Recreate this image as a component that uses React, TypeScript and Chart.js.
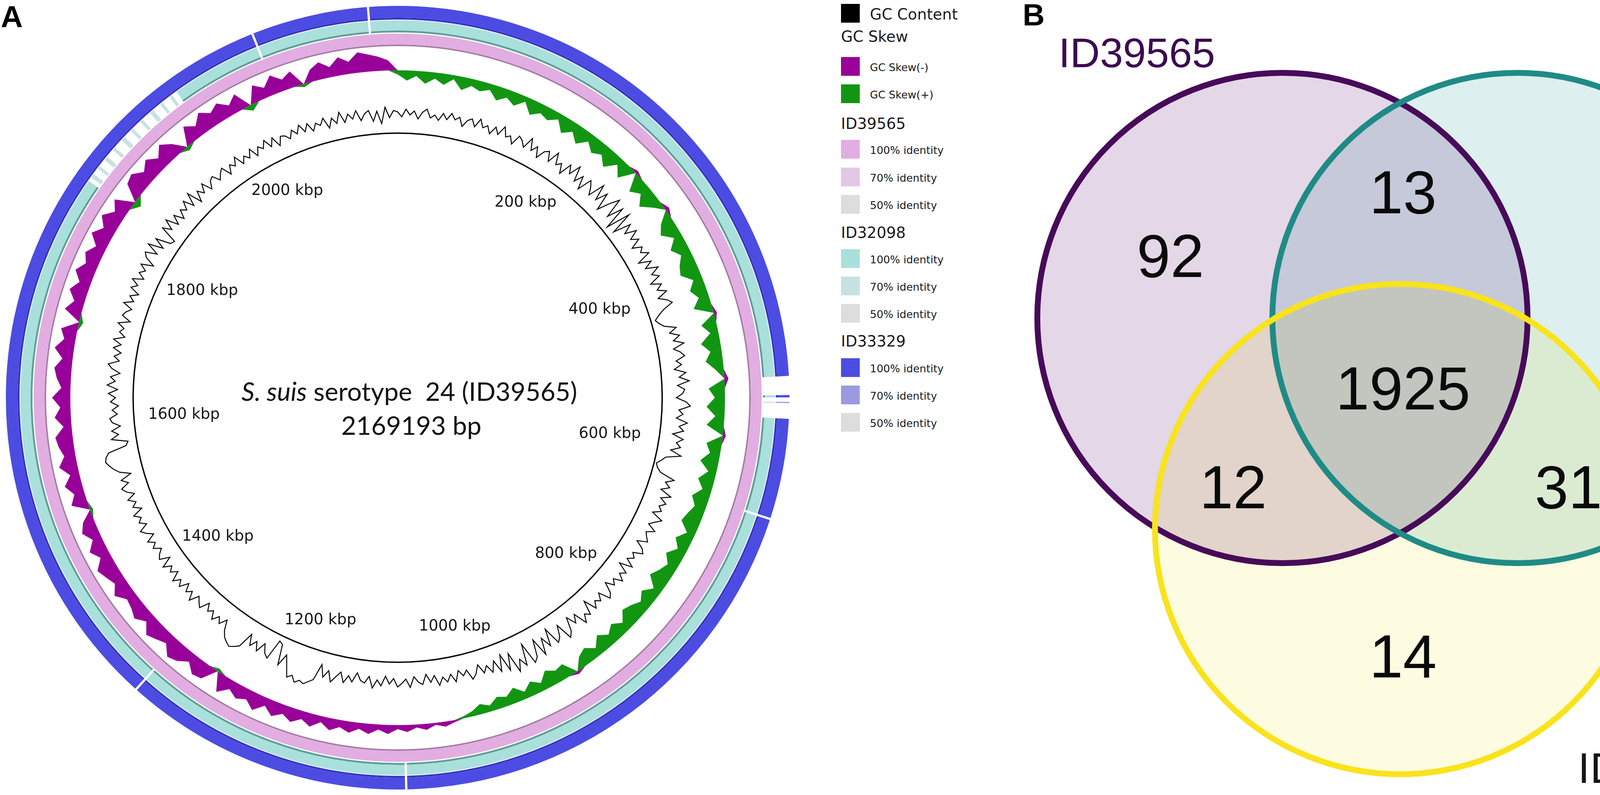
import React, { useEffect, useRef } from 'react';
import { Chart, registerables } from 'chart.js';

Chart.register(...registerables);

// ----------------------------------------------------------------- data
const GENOME_BP = 2169193;
const GENOME_KBP = GENOME_BP / 1000;
const KBP_TICKS = [200, 400, 600, 800, 1000, 1200, 1400, 1600, 1800, 2000];

// GC skew, one value per ~10 kbp window (positive = G > C)
const GC_SKEW = [
  0.2, 0.5, 0.25, 0.6, 0.3, 0.55, 0.2, 0.65, 0.35, 0.5,
  0.3, 0.7, 0.4, 0.65, 0.25, 0.75, 0.45, 0.6, 0.3, 0.8,
  0.45, 0.85, 0.4, 0.75, 0.5, 0.9, 0.35, 0.8, -0.15, 0.85,
  0.5, 0.95, 0.45, -0.2, 0.6, 0.9, 0.4, 0.85, 0.5, 0.8,
  0.95, 0.45, 0.8, 0.5, 0.9, -0.15, 0.75, 0.4, 0.95, 0.55,
  0.85, 0.4, -0.2, 0.8, 0.5, 0.9, 0.45, 0.85, -0.15, 0.75,
  0.5, 0.9, 0.4, 0.8, 0.45, 0.85, 0.55, 0.75, 0.9, 0.4,
  0.8, 0.45, 0.85, 0.5, 0.7, 0.95, 0.4, 0.8, 0.5, 0.75,
  0.9, 0.45, 0.8, 0.5, 0.85, 0.4, 0.75, 0.55, -0.15, 0.7,
  0.6, 0.85, 0.4, 0.7, 0.35, 0.75, 0.45, 0.6, 0.3, 0.5,
  0.25, 0.1, -0.1, -0.25, -0.1, -0.3, -0.15, -0.35, -0.2, -0.45,
  -0.25, -0.5, -0.3, -0.55, -0.35, -0.6, -0.3, -0.65, -0.4, -0.7,
  -0.45, -0.75, -0.4, -0.85, -0.5, -0.7, -0.45, -0.9, 0.15, -0.75,
  -0.85, -0.45, -0.8, -0.95, -0.5, -0.7, -0.9, -0.45, -0.8, -0.6,
  -0.5, -0.9, -0.55, -0.75, -0.95, -0.5, -0.85, -0.45, -0.8, -0.55,
  0.15, -0.8, -0.5, -0.85, -0.45, -0.9, -0.55, -0.75, -0.85, -0.4,
  -0.8, -0.5, -0.9, -0.45, -0.7, -0.85, -0.5, -0.95, -0.55, -0.8,
  0.2, -0.85, -0.5, -0.9, -0.55, -0.95, -0.6, -0.85, -0.5, -1.0,
  -0.6, -1.0, -0.55, -0.9, 0.35, -0.85, -1.0, -0.6, -0.95, -0.55,
  -1.0, -0.6, 0.2, -0.9, -0.55, -1.0, -0.65, -0.9, -0.5, -0.85,
  0.3, -0.85, -0.5, -0.95, -0.55, -0.8, 0.15, -0.6, -0.85, -0.5,
  -0.9, -0.6, -1.0, -0.85, -0.7, -0.5,
];

// GC content deviation from the genome average, one value per ~5 kbp window
const GC_CONTENT = [
  0.1, -0.25, 0.3, -0.1, 0.2, -0.35, 0.15, 0.4, -0.2, 0.05, -0.3, 0.25,
  -0.15, 0.35, -0.05, 0.2, -0.4, 0.1, 0.3, -0.2, 0.45, -0.1, 0.15, -0.35,
  0.25, -0.2, 0.5, -0.15, 0.05, -0.45, 0.3, 0.1, -0.3, 0.55, -0.25, 0.2,
  -0.5, 0.15, 0.35, -0.3, 0.6, -0.2, 0.1, -0.55, 0.4, -0.15, 0.7, -0.35,
  0.3, -0.6, 0.45, 0.1, -0.4, 0.8, -0.3, 0.55, -0.7, 0.2, 0.9, -0.5,
  0.65, -1.0, 0.75, -0.85, 0.4, -0.3, 0.5, -0.2, 0.3, -0.45, 0.2, -0.1,
  0.4, -0.6, 0.25, -0.35, 0.5, -0.15, 0.3, -0.5, 0.2, -0.25, 0.35, -0.4,
  0.15, 0.45, -0.3, -0.75, -1.1, -0.9, -0.6, 0.2, -0.35, 0.3, -0.2, 0.5,
  -0.3, 0.15, 0.4, -0.25, 0.1, -0.45, 0.35, -0.15, 0.55, -0.3, 0.2, 0.05,
  -0.4, 0.3, 0.6, -0.2, 0.1, -0.35, 0.45, -0.1, 0.25, -0.5, 0.3, -0.15,
  0.2, -0.45, 0.35, -0.7, -0.95, -1.25, -1.1, -0.8, 0.3, -0.25, 0.15, -0.4,
  0.45, -0.2, 0.3, -0.1, 0.2, -0.35, 0.5, 0.1, -0.25, 0.4, -0.15, 0.05,
  0.3, -0.4, 0.2, 0.45, -0.2, 0.1, -0.3, 0.35, -0.55, 0.25, -0.1, 0.4,
  -0.2, 0.15, -0.45, 0.3, 0.55, -0.3, 0.2, -0.1, 0.35, -0.6, 0.4, 0.1,
  0.65, -0.35, 0.2, -0.5, 0.45, 0.8, -0.45, 0.3, 0.6, -0.7, 0.5, -0.3,
  0.85, -0.5, 0.7, 1.0, -0.6, 0.9, 0.3, 1.1, -0.4, 0.75, -0.55, 0.6,
  -0.3, 0.45, -0.15, 0.3, -0.4, 0.2, 0.5, -0.25, 0.1, -0.35, 0.4, -0.2,
  0.3, -0.1, 0.45, -0.3, 0.15, -0.45, 0.25, 0.05, -0.35, 0.4, -0.2, 0.1,
  0.35, -0.25, 0.15, -0.4, 0.3, -0.1, 0.5, -0.3, 0.2, 0.05, -0.45, 0.25,
  -0.15, 0.4, -0.3, 0.1, 0.55, -0.2, 0.35, -0.5, 0.7, 0.95, 1.2, 1.05,
  1.3, 0.9, 1.15, 0.4, -0.3, 0.6, -0.85, -1.0, 0.5, 0.25, -0.35, 0.4,
  -0.2, 0.3, -0.45, 0.7, 0.95, 1.15, 1.0, 0.8, 0.4, -0.3, 0.25, -0.15,
  0.35, -0.2, 0.1, -0.4, 0.3, 0.05, -0.25, 0.45, -0.15, 0.2, -0.35, 0.3,
  -0.1, 0.4, -0.3, 0.15, -0.2, 0.35, -0.45, 0.25, 0.05, -0.3, 0.2, -0.15,
  0.3, -0.35, 0.1, 0.4, -0.25, 0.2, -0.1, 0.35, -0.4, 0.15, -0.2, 0.3,
  -0.3, 0.2, 0.45, -0.15, 0.3, -0.5, 0.25, 0.6, 0.85, 1.05, 0.95, 0.7,
  -0.6, -0.8, 0.35, -0.2, 0.25, -0.4, 0.15, 0.3, -0.25, 0.1, -0.35, 0.2,
  -0.15, 0.35, -0.3, 0.45, -0.1, 0.25, -0.4, 0.2, 0.5, -0.25, 0.15, -0.3,
  0.3, -0.2, 0.4, -0.35, 0.1, -0.15, 0.35, -0.45, 0.2, 0.05, -0.3, 0.4,
  -0.25, 0.15, -0.4, 0.3, -0.1, 0.45, -0.3, 0.2, -0.15, 0.35, -0.5, 0.25,
  0.5, -0.3, 0.6, -0.45, 0.35, -0.7, -0.85, 0.4, -0.2, 0.55, -0.35, 0.3,
  -0.4, 0.2, -0.15, 0.45, -0.3, 0.6, -0.5, 0.25, -0.2, 0.4, -0.35, 0.15,
  0.3, -0.25, 0.1, 0.35, -0.4, 0.2, -0.1, 0.45, -0.3, 0.15, -0.2, 0.35,
  -0.35, 0.2, -0.1, 0.4, -0.25, 0.3, -0.45, 0.15, 0.05, -0.3, 0.25, -0.15,
  0.4, -0.2, 0.3, -0.35, 0.15, -0.1, 0.35, -0.45, 0.2, -0.25, 0.5, -0.3,
  0.25, -0.15, 0.4, -0.35, 0.1, 0.3, -0.5, 0.2, -0.7, 0.45, -0.3, 0.2,
];

// BLAST blocks that are not at 100 % identity: [start kbp, end kbp, identity %]
const ID39565_BLOCKS: number[][] = [];
const ID32098_BLOCKS: number[][] = [
  [523, 540, 0], [540, 542, 100], [542, 546, 0], [546, 547, 70], [547, 561, 0],
  [650, 652, 0], [1076, 1078, 0], [1336, 1338, 0],
  [1838, 1842, 0], [1842, 1846, 70], [1846, 1852, 0], [1852, 1855, 70],
  [1855, 1862, 0], [1862, 1866, 70], [1866, 1874, 0], [1874, 1877, 70],
  [1877, 1886, 0], [1886, 1890, 70], [1890, 1898, 0], [1898, 1901, 70],
  [1901, 1910, 0], [1910, 1913, 70], [1913, 1922, 0], [1922, 1926, 70],
  [1926, 1934, 0], [1934, 1937, 70], [1937, 1945, 0], [1945, 1948, 70],
  [1948, 1953, 0],
  [2037, 2039, 0], [2142, 2144, 0],
];
const ID33329_BLOCKS: number[][] = [
  [523, 540, 0], [540, 542, 100], [542, 546, 0], [546, 547, 70], [547, 561, 0],
  [650, 652, 0], [1076, 1078, 0], [1336, 1338, 0], [2037, 2039, 0], [2142, 2144, 0],
];

const GENOMES = ['ID39565', 'ID32098', 'ID33329'];
const GENOME_BLOCKS = [ID39565_BLOCKS, ID32098_BLOCKS, ID33329_BLOCKS];
const IDENTITY_LEVELS = [100, 70, 50];

// Venn diagram
const VENN_SETS = ['ID39565', 'ID32098', 'ID33329'];
const VENN_REGIONS = [
  'ID39565 only', 'ID39565 & ID32098', 'ID32098 only', 'all three',
  'ID39565 & ID33329', 'ID32098 & ID33329', 'ID33329 only',
];
const VENN_VALUES = [92, 13, 18, 1925, 12, 31, 14];

// ----------------------------------------------------------------- styles / layout
const MAP_SIZE = 2036;
const MAP_RMAX = MAP_SIZE / 2;
const GC_BASE = 728;
const GC_AMP = 36;
const SKEW_BASE = 838;
const SKEW_AMP = 52;
const LABEL_R = 603;
const LABEL_SQUEEZE = 55;

const GENOME_COLORS = [
  { 100: '#e2aee2', dark: '#a57ba5', 70: '#e2c8e4', 50: '#dddddd' },
  { 100: '#aae0dc', dark: '#5e9f9a', 70: '#c6e2e0', 50: '#dddddd' },
  { 100: '#4c4ce2', dark: '#3535c4', 70: '#9a9ae2', 50: '#dddddd' },
];
const SKEW_NEG_COLOR = '#990099';
const SKEW_POS_COLOR = '#129612';

const RING_LAYERS = [
  { w: 15, kind: 'space' },
  { w: 30, kind: 'ring', g: 2, tone: 'main' },
  { w: 5, kind: 'ring', g: 2, tone: 'dark' },
  { w: 2, kind: 'space' },
  { w: 26, kind: 'ring', g: 1, tone: 'main' },
  { w: 5, kind: 'ring', g: 1, tone: 'dark' },
  { w: 3, kind: 'space' },
  { w: 28, kind: 'ring', g: 0, tone: 'main' },
  { w: 4, kind: 'ring', g: 0, tone: 'dark' },
  { w: 221, kind: 'space' },
  { w: 3.5, kind: 'backbone' },
];
const CUTOUT = MAP_RMAX - RING_LAYERS.reduce((s, l) => s + l.w, 0);

const LEGEND_X = 2153;
const LEGEND_TEXT_X = 2227;
const LEGEND_SQ = 48;
const LEGEND_ROW_Y = [34, 93, 170, 240, 316, 382, 453, 523, 595, 662, 732, 802, 873, 941, 1011, 1081];

const VENN_LEFT = 2450;
const VENN_W = 2100;
const VENN_H = 2035;
const VENN_UNIT = 627.5; // px per circle radius
const VENN_CENTERS = [{ x: 0, y: 0 }, { x: 0.959, y: 0 }, { x: 0.48, y: 0.861 }];
const VENN_ORIGIN = { x: 833, y: 814 };
const VENN_FILLS = ['#e4d7e8', '#ddefef', '#fdfbe0'];
const VENN_STROKES = ['#470b59', '#1f8b86', '#f9e31c'];
const VENN_STROKE_W = 15;
const VENN_REGION_POS = [
  [-0.457, -0.255], [0.492, -0.515], [1.434, -0.255], [0.492, 0.285],
  [-0.201, 0.688], [1.167, 0.688], [0.492, 1.377],
];
const VENN_SET_POS = [[-0.594, -1.084], [1.653, -1.139], [1.554, 1.836]];
const VENN_SET_FONT = [
  { f: '106px "Liberation Sans"', c: '#3c0b50', cap: 0.716 * 106 },
  { f: '103px "DejaVu Sans"', c: '#151515', cap: 0.729 * 103 },
  { f: '103px "DejaVu Sans"', c: '#151515', cap: 0.729 * 103 },
];

// ----------------------------------------------------------------- helpers
function buildRing(blocks: number[][]) {
  const sorted = [...blocks].sort((a, b) => a[0] - b[0]);
  const data: number[] = [];
  const ident: number[] = [];
  let pos = 0;
  for (const [s, e, id] of sorted) {
    if (s > pos) { data.push(s - pos); ident.push(100); }
    data.push(e - s); ident.push(id); pos = e;
  }
  if (pos < GENOME_KBP) { data.push(GENOME_KBP - pos); ident.push(100); }
  return { data, ident };
}

function ringConfig(): any {
  const datasets = RING_LAYERS.map((layer) => {
    const base = { weight: layer.w, borderWidth: 0, hoverBorderWidth: 0, hoverOffset: 0, offset: 0 };
    if (layer.kind === 'space') {
      return { ...base, data: [GENOME_KBP], backgroundColor: ['rgba(0,0,0,0)'] };
    }
    if (layer.kind === 'backbone') {
      return { ...base, data: [GENOME_KBP], backgroundColor: ['#000000'] };
    }
    const ring = buildRing(GENOME_BLOCKS[layer.g as number]);
    const pal: any = GENOME_COLORS[layer.g as number];
    const colors = ring.ident.map((id) => {
      if (id === 0) return 'rgba(0,0,0,0)';
      if (id === 100) return layer.tone === 'dark' ? pal.dark : pal[100];
      return pal[id];
    });
    return { ...base, data: ring.data, backgroundColor: colors };
  });
  return {
    type: 'doughnut',
    data: { labels: [], datasets },
    options: {
      responsive: false,
      animation: false,
      devicePixelRatio: 1,
      events: [],
      cutout: CUTOUT,
      rotation: 0,
      circumference: 360,
      layout: { padding: 0 },
      plugins: { legend: { display: false }, tooltip: { enabled: false } },
    },
  };
}

const kbpLabelPlugin = {
  id: 'kbpLabels',
  afterDatasetsDraw(chart: any) {
    const s = chart.scales.r;
    const ctx = chart.ctx;
    ctx.save();
    ctx.font = '39px "DejaVu Sans"';
    ctx.fillStyle = '#151515';
    ctx.textAlign = 'center';
    ctx.textBaseline = 'alphabetic';
    for (const k of KBP_TICKS) {
      const th = (k / GENOME_KBP) * Math.PI * 2;
      const sn = Math.sin(th);
      const rad = s.getDistanceFromCenterForValue(LABEL_R - LABEL_SQUEEZE * Math.pow(sn, 4));
      const x = s.xCenter + rad * sn;
      const y = s.yCenter - rad * Math.cos(th);
      ctx.fillText(`${k} kbp`, x, y + 11);
    }
    ctx.restore();
  },
};

const radialScale = {
  r: {
    min: 0,
    max: MAP_RMAX,
    display: true,
    ticks: { display: false },
    grid: { display: false },
    angleLines: { display: false },
    pointLabels: { display: false },
  },
};

const baseOptions = {
  responsive: false,
  animation: false,
  devicePixelRatio: 1,
  events: [],
  layout: { padding: 0 },
  plugins: { legend: { display: false }, tooltip: { enabled: false } },
};

function skewConfig(): any {
  const n = GC_SKEW.length;
  const common = { pointRadius: 0, pointHoverRadius: 0, tension: 0, spanGaps: true, borderWidth: 0, borderColor: 'rgba(0,0,0,0)' };
  return {
    type: 'radar',
    data: {
      labels: Array.from({ length: n }, (_, i) => String(i)),
      datasets: [
        {
          ...common,
          label: 'GC Skew(+)',
          data: GC_SKEW.map((v) => SKEW_BASE - Math.max(v, 0) * SKEW_AMP),
          fill: { value: SKEW_BASE },
          backgroundColor: SKEW_POS_COLOR,
        },
        {
          ...common,
          label: 'GC Skew(-)',
          data: GC_SKEW.map((v) => SKEW_BASE - Math.min(v, 0) * SKEW_AMP),
          fill: { value: SKEW_BASE },
          backgroundColor: SKEW_NEG_COLOR,
        },
      ],
    },
    options: { ...baseOptions, scales: radialScale },
  };
}

function contentConfig(): any {
  const n = GC_CONTENT.length;
  return {
    type: 'radar',
    data: {
      labels: Array.from({ length: n }, (_, i) => String(i)),
      datasets: [
        {
          label: 'GC Content',
          data: GC_CONTENT.map((v) => GC_BASE + v * GC_AMP),
          fill: false,
          pointRadius: 0,
          pointHoverRadius: 0,
          tension: 0,
          backgroundColor: '#000000',
          borderColor: '#000000',
          borderWidth: 2.5,
        },
      ],
    },
    options: { ...baseOptions, scales: radialScale },
    plugins: [kbpLabelPlugin],
  };
}

const vennMultiplyPlugin = {
  id: 'vennMultiply',
  beforeDatasetDraw(chart: any, args: any) {
    if (args.index === 1) {
      chart.ctx.save();
      chart.ctx.globalCompositeOperation = 'multiply';
    }
  },
  afterDatasetDraw(chart: any, args: any) {
    if (args.index === 1) chart.ctx.restore();
  },
};

const vennTextPlugin = {
  id: 'vennText',
  afterDatasetsDraw(chart: any) {
    const { ctx, scales } = chart;
    const xs = scales.x;
    const ys = scales.y;
    ctx.save();
    ctx.textAlign = 'center';
    ctx.textBaseline = 'alphabetic';
    ctx.fillStyle = '#0a0a0a';
    ctx.font = '155px "Liberation Sans"';
    VENN_VALUES.forEach((v, i) => {
      const [ux, uy] = VENN_REGION_POS[i];
      ctx.fillText(String(v), xs.getPixelForValue(ux), ys.getPixelForValue(uy) + 0.716 * 155 / 2);
    });
    VENN_SETS.forEach((name, i) => {
      const [ux, uy] = VENN_SET_POS[i];
      const f = VENN_SET_FONT[i];
      ctx.font = f.f;
      ctx.fillStyle = f.c;
      ctx.fillText(name, xs.getPixelForValue(ux), ys.getPixelForValue(uy) + f.cap / 2);
    });
    ctx.restore();
  },
};

function vennConfig(): any {
  const radius = (c: any) => {
    const xs = c.chart.scales.x;
    return xs.getPixelForValue(1) - xs.getPixelForValue(0);
  };
  return {
    type: 'scatter',
    data: {
      datasets: [
        {
          label: 'outline',
          data: VENN_CENTERS,
          pointRadius: radius,
          pointHoverRadius: radius,
          backgroundColor: 'rgba(0,0,0,0)',
          borderColor: VENN_STROKES,
          borderWidth: VENN_STROKE_W,
          pointBorderWidth: VENN_STROKE_W,
          clip: false,
        },
        {
          label: 'fill',
          data: VENN_CENTERS,
          pointRadius: radius,
          pointHoverRadius: radius,
          backgroundColor: VENN_FILLS,
          borderWidth: 0,
          pointBorderWidth: 0,
          clip: false,
        },
      ],
    },
    options: {
      ...baseOptions,
      scales: {
        x: {
          type: 'linear',
          display: false,
          min: -VENN_ORIGIN.x / VENN_UNIT,
          max: (VENN_W - VENN_ORIGIN.x) / VENN_UNIT,
        },
        y: {
          type: 'linear',
          display: false,
          reverse: true,
          min: -VENN_ORIGIN.y / VENN_UNIT,
          max: (VENN_H - VENN_ORIGIN.y) / VENN_UNIT,
        },
      },
    },
    plugins: [vennMultiplyPlugin, vennTextPlugin],
  };
}

// ----------------------------------------------------------------- legend
type LegendRow = { kind: 'item' | 'header'; text: string; color?: string; big?: boolean };
const legendRows: LegendRow[] = [
  { kind: 'item', text: 'GC Content', color: '#000000', big: true },
  { kind: 'header', text: 'GC Skew' },
  { kind: 'item', text: 'GC Skew(-)', color: SKEW_NEG_COLOR },
  { kind: 'item', text: 'GC Skew(+)', color: SKEW_POS_COLOR },
];
GENOMES.forEach((g, gi) => {
  legendRows.push({ kind: 'header', text: g });
  IDENTITY_LEVELS.forEach((lvl) => {
    legendRows.push({ kind: 'item', text: `${lvl}% identity`, color: (GENOME_COLORS[gi] as any)[lvl] });
  });
});

const textBase: React.CSSProperties = {
  position: 'absolute',
  lineHeight: 1,
  whiteSpace: 'nowrap',
  margin: 0,
  padding: 0,
};

export default function App() {
  const ringRef = useRef<HTMLCanvasElement>(null);
  const skewRef = useRef<HTMLCanvasElement>(null);
  const contentRef = useRef<HTMLCanvasElement>(null);
  const vennRef = useRef<HTMLCanvasElement>(null);

  useEffect(() => {
    const charts: Chart[] = [];
    if (ringRef.current) charts.push(new Chart(ringRef.current, ringConfig()));
    if (skewRef.current) charts.push(new Chart(skewRef.current, skewConfig()));
    if (contentRef.current) charts.push(new Chart(contentRef.current, contentConfig()));
    if (vennRef.current) charts.push(new Chart(vennRef.current, vennConfig()));
    return () => charts.forEach((c) => c.destroy());
  }, []);

  const mapCanvas: React.CSSProperties = { position: 'absolute', left: 0, top: 0, width: MAP_SIZE, height: MAP_SIZE };

  return (
    <div
      style={{
        position: 'absolute', left: 0, top: 0, width: 4550, height: 2035,
        background: '#ffffff', overflow: 'hidden', color: '#111',
      }}
    >
      <canvas ref={ringRef} width={MAP_SIZE} height={MAP_SIZE} style={mapCanvas} />
      <canvas ref={skewRef} width={MAP_SIZE} height={MAP_SIZE} style={mapCanvas} />
      <canvas ref={contentRef} width={MAP_SIZE} height={MAP_SIZE} style={mapCanvas} />
      <canvas ref={vennRef} width={VENN_W} height={VENN_H}
        style={{ position: 'absolute', left: VENN_LEFT, top: 0, width: VENN_W, height: VENN_H }} />

      {/* panel letters */}
      <div style={{ ...textBase, left: 2, top: -2, font: 'bold 78px "Liberation Sans"', color: '#000' }}>A</div>
      <div style={{ ...textBase, left: 2618, top: -7, font: 'bold 78px "Liberation Sans"', color: '#000' }}>B</div>

      {/* map title */}
      <div style={{ ...textBase, left: 1048, top: 1000, transform: 'translate(-50%, -50%)', font: '66px Lato', color: '#111' }}>
        <i>S. suis</i> serotype&nbsp; 24 (ID39565)
      </div>
      <div style={{ ...textBase, left: 1053, top: 1087, transform: 'translate(-50%, -50%)', font: '66px Lato', color: '#111' }}>
        {GENOME_BP} bp
      </div>

      {/* legend */}
      {legendRows.map((row, i) => {
        const cy = LEGEND_ROW_Y[i];
        if (row.kind === 'header') {
          return (
            <div key={i} style={{ ...textBase, left: LEGEND_X, top: cy, transform: 'translateY(-50%)', font: '39px "DejaVu Sans"', color: '#1a1a1a' }}>
              {row.text}
            </div>
          );
        }
        return (
          <React.Fragment key={i}>
            <div style={{ position: 'absolute', left: LEGEND_X, top: cy - LEGEND_SQ / 2, width: LEGEND_SQ, height: LEGEND_SQ, background: row.color }} />
            <div style={{ ...textBase, left: LEGEND_TEXT_X, top: cy + 2, transform: 'translateY(-50%)', font: row.big ? '39px "DejaVu Sans"' : '27px "DejaVu Sans"', color: '#1a1a1a' }}>
              {row.text}
            </div>
          </React.Fragment>
        );
      })}
    </div>
  );
}
